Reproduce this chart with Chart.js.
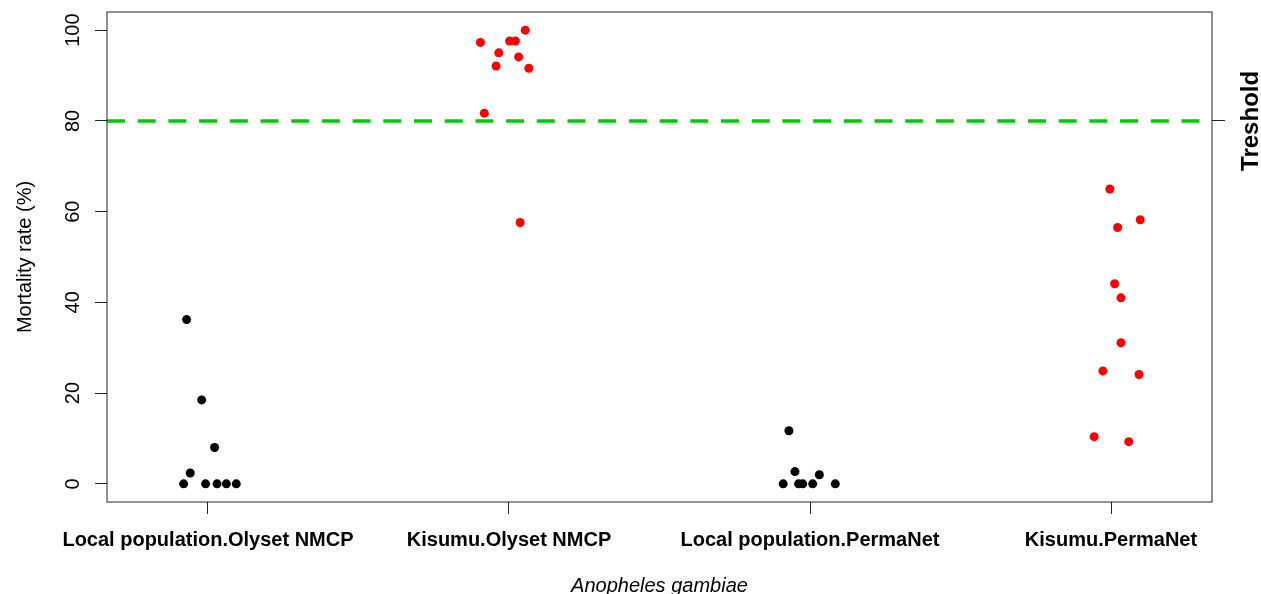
<!DOCTYPE html>
<html lang="en">
<head>
    <meta charset="UTF-8">
    <title>Mortality rate - Anopheles gambiae</title>
    <script src="https://cdn.jsdelivr.net/npm/chart.js"></script>
    <style>
        html, body { margin: 0; padding: 0; background: #fff; }
        canvas { display: block; }
    </style>
</head>
<body>
    <canvas id="myChart" width="1261" height="594"></canvas>

    <script>
        // groups on the x axis
        const categories = ['Local population.Olyset NMCP', 'Kisumu.Olyset NMCP', 'Local population.PermaNet', 'Kisumu.PermaNet'];

        // mortality (%) per replicate
        const localOlyset = [36.2, 18.5, 8.0, 2.4, 0, 0, 0, 0, 0];
        const kisumuOlyset = [97.3, 100, 97.6, 97.6, 95.0, 94.1, 92.1, 91.6, 81.7, 57.6];
        const localPermaNet = [11.7, 2.7, 2.0, 0, 0, 0, 0, 0];
        const kisumuPermaNet = [65.0, 58.2, 56.5, 44.1, 41.0, 31.1, 24.9, 24.1, 10.4, 9.3];

        // horizontal jitter of each point (stripchart method = "jitter")
        const localOlysetJitter = [-0.071, -0.021, 0.022, -0.059, -0.081, -0.008, 0.030, 0.061, 0.094];
        const kisumuOlysetJitter = [-0.095, 0.054, 0.002, 0.021, -0.034, 0.032, -0.043, 0.066, -0.082, 0.037];
        const localPermaNetJitter = [-0.070, -0.050, 0.031, -0.089, -0.038, -0.024, 0.009, 0.084];
        const kisumuPermaNetJitter = [-0.004, 0.097, 0.022, 0.012, 0.033, 0.033, -0.027, 0.093, -0.056, 0.059];

        const yTicks = [0, 20, 40, 60, 80, 100];
        const threshold = 80;

        const xMin = 0.6645, xMax = 4.3355;
        const yMin = -4, yMax = 104;

        function toPoints(values, jitter, group) {
            return values.map((v, i) => ({ x: group + 1 + jitter[i], y: v }));
        }

        const FONT = '"Liberation Sans", Arial, sans-serif';

        // R style box, rotated y labels and the right hand "Treshold" text
        const framePlugin = {
            id: 'frame',
            afterDraw(chart) {
                const ctx = chart.ctx;
                const a = chart.chartArea;
                const y = chart.scales.y;
                ctx.save();
                ctx.strokeStyle = '#222';
                ctx.lineWidth = 1;
                ctx.strokeRect(a.left, a.top, a.right - a.left, a.bottom - a.top);

                ctx.fillStyle = '#000';
                ctx.textAlign = 'center';
                ctx.textBaseline = 'alphabetic';
                ctx.font = '20px ' + FONT;
                yTicks.forEach(t => {
                    ctx.save();
                    ctx.translate(79, y.getPixelForValue(t));
                    ctx.rotate(-Math.PI / 2);
                    ctx.fillText(String(t), 0, 0);
                    ctx.restore();
                });

                ctx.save();
                ctx.translate(31, (a.top + a.bottom) / 2);
                ctx.rotate(-Math.PI / 2);
                ctx.fillText('Mortality rate (%)', 0, 0);
                ctx.restore();

                ctx.save();
                ctx.font = 'bold 24px ' + FONT;
                ctx.translate(1258, y.getPixelForValue(threshold));
                ctx.rotate(-Math.PI / 2);
                ctx.fillText('Treshold', 0, 0);
                ctx.restore();

                ctx.restore();
            }
        };

        const ctx = document.getElementById('myChart').getContext('2d');

        new Chart(ctx, {
            type: 'scatter',
            data: {
                datasets: [
                    { label: categories[0], data: toPoints(localOlyset, localOlysetJitter, 0), backgroundColor: '#000' },
                    { label: categories[1], data: toPoints(kisumuOlyset, kisumuOlysetJitter, 1), backgroundColor: '#ff0000' },
                    { label: categories[2], data: toPoints(localPermaNet, localPermaNetJitter, 2), backgroundColor: '#000' },
                    { label: categories[3], data: toPoints(kisumuPermaNet, kisumuPermaNetJitter, 3), backgroundColor: '#ff0000' },
                    {
                        type: 'line',
                        label: 'Treshold',
                        data: [{ x: xMin, y: threshold }, { x: xMax, y: threshold }],
                        borderColor: '#00cd00',
                        borderWidth: 3.5,
                        borderDash: [18, 12.7],
                        pointRadius: 0,
                        fill: false
                    }
                ]
            },
            options: {
                responsive: false,
                animation: false,
                devicePixelRatio: 1,
                layout: { padding: { top: 12, left: 0, right: 0, bottom: 0 } },
                elements: {
                    point: { radius: 4.5, borderWidth: 0, hoverRadius: 4.5 }
                },
                plugins: {
                    legend: { display: false },
                    tooltip: { enabled: false }
                },
                scales: {
                    x: {
                        type: 'linear',
                        min: xMin,
                        max: xMax,
                        afterBuildTicks: s => { s.ticks = categories.map((c, i) => ({ value: i + 1 })); },
                        afterFit: s => { s.height = 92; },
                        border: { display: false },
                        grid: { drawOnChartArea: false, drawTicks: true, tickLength: 12, color: '#222' },
                        ticks: {
                            autoSkip: false,
                            maxRotation: 0,
                            padding: 14,
                            color: '#000',
                            font: { family: FONT, size: 20, weight: 'bold' },
                            callback: v => categories[Math.round(v) - 1]
                        },
                        title: {
                            display: true,
                            text: 'Anopheles gambiae',
                            color: '#000',
                            padding: { top: 0, bottom: -4 },
                            font: { family: FONT, size: 20, style: 'italic' }
                        }
                    },
                    y: {
                        position: 'left',
                        min: yMin,
                        max: yMax,
                        afterBuildTicks: s => { s.ticks = yTicks.map(v => ({ value: v })); },
                        afterFit: s => { s.width = 107; },
                        border: { display: false },
                        grid: { drawOnChartArea: false, drawTicks: true, tickLength: 12, color: '#222' },
                        ticks: { display: false }
                    },
                    y2: {
                        position: 'right',
                        min: yMin,
                        max: yMax,
                        afterBuildTicks: s => { s.ticks = [{ value: threshold }]; },
                        afterFit: s => { s.width = 49; },
                        border: { display: false },
                        grid: { drawOnChartArea: false, drawTicks: true, tickLength: 13, color: '#222' },
                        ticks: { display: false }
                    }
                }
            },
            plugins: [framePlugin]
        });
    </script>
</body>
</html>
